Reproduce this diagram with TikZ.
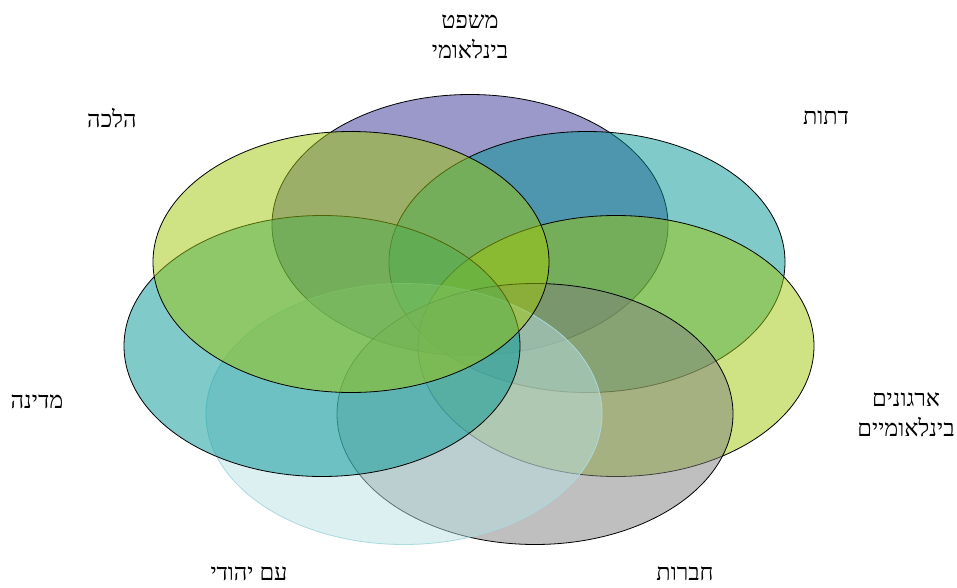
\documentclass[tikz,border=0pt]{standalone}
\usepackage{fontspec}
\newfontfamily\hebfont[Script=Hebrew]{Liberation Serif}
\TeXXeTstate=1
\definecolor{cpurple}{RGB}{53,51,147}
\definecolor{cteal}{RGB}{1,149,149}
\definecolor{clime}{RGB}{159,199,9}
\definecolor{cgray}{RGB}{127,127,127}
\definecolor{clight}{RGB}{185,223,227}
\definecolor{clightline}{RGB}{170,218,222}
\begin{document}
\begin{tikzpicture}[x=1pt,y=-1pt,
  petal/.style={draw=black,line width=0.8pt,fill opacity=0.5},
  lbl/.style={font=\hebfont\fontsize{23.5}{30}\selectfont,align=center,inner sep=0pt}]
\useasboundingbox (0,0) rectangle (957,588);
\filldraw[petal,fill=cpurple] (470,225) ellipse [x radius=198,y radius=130.5];
\filldraw[petal,fill=cteal] (587,262) ellipse [x radius=198,y radius=130.5];
\filldraw[petal,fill=clime] (616,346) ellipse [x radius=198,y radius=130.5];
\filldraw[petal,fill=cgray] (535,414) ellipse [x radius=198,y radius=130.5];
\filldraw[petal,draw=clightline,fill=clight] (404,414) ellipse [x radius=198,y radius=130.5];
\filldraw[petal,fill=cteal] (322,346) ellipse [x radius=198,y radius=130.5];
\filldraw[petal,fill=clime] (351,262) ellipse [x radius=198,y radius=130.5];
\node[lbl] (t1) at (470,37) {\beginR משפט\endR\\\beginR בינלאומי\endR};
\node[lbl] (t7) at (112,118) {\beginR הלכה\endR};
\node[lbl] (t2) at (826,118) {\beginR דתות\endR};
\node[lbl] (t3) at (906,415) {\beginR ארגונים\endR\\\beginR בינלאומיים\endR};
\node[lbl] (t6) at (37,402) {\beginR מדינה\endR};
\node[lbl] (t5) at (249,574) {\beginR עם יהודי\endR};
\node[lbl] (t4) at (685,574) {\beginR חברות\endR};
\end{tikzpicture}
\end{document}
